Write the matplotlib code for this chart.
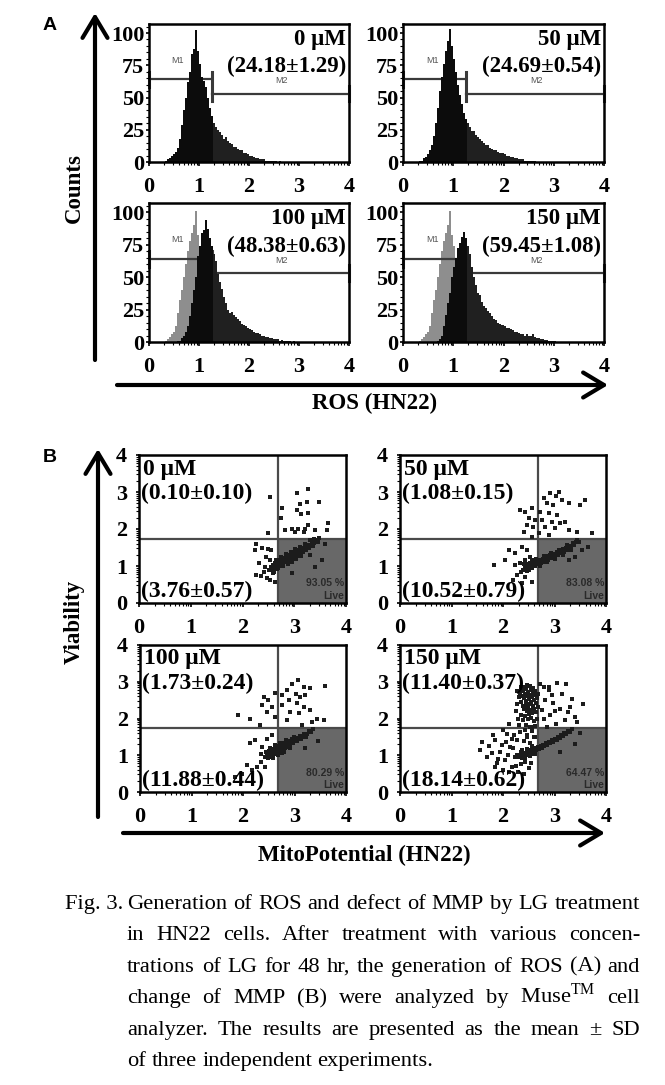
import numpy as np
import matplotlib
matplotlib.use("Agg")
import matplotlib.pyplot as plt
from matplotlib.transforms import IdentityTransform

W, H = 665, 1085
SERIF = ["Liberation Serif", "DejaVu Serif"]
SANS = ["Liberation Sans", "DejaVu Sans"]
plt.rcParams["font.family"] = SERIF
plt.rcParams["mathtext.fontset"] = "custom"
plt.rcParams["mathtext.rm"] = "Liberation Serif"

# ---------------- A: ROS histograms ----------------
doses = ["0 μM", "50 μM", "100 μM", "150 μM"]
ros_pct = ["(24.18±1.29)", "(24.69±0.54)", "(48.38±0.63)", "(59.45±1.08)"]
ros_bin0, ros_binw = 0.32, 0.04
ros_0 = [1, 2, 3, 5, 6, 8, 11, 18, 29, 40,
         50, 62, 70, 84, 88, 102, 86, 76, 66, 63,
         58, 50, 42, 36, 30, 27, 25, 23, 21, 18,
         19, 16, 15, 14, 12, 12, 10, 9, 9, 7,
         7, 6, 5, 5, 4, 3, 3, 2, 2, 2,
         1, 1, 1, 0.5, 0.5, 0.5, 0, 0.5, 0, 0]
ros_50 = [0.5, 1, 3, 4, 6, 9, 13, 20, 30, 42,
          55, 66, 76, 86, 94, 103, 90, 80, 70, 60,
          52, 45, 38, 33, 30, 27, 24, 24, 21, 19,
          18, 16, 15, 13, 13, 11, 10, 9, 9, 8,
          7, 7, 6, 5, 5, 4, 4, 3, 3, 2,
          2, 2, 1, 1, 1, 1, 0.5, 0.5, 0, 0]
ros_100 = [0, 0, 0, 0, 0, 0, 0.5, 1, 3, 5,
           8, 12, 20, 30, 40, 50, 66, 74, 84, 86,
           94, 87, 80, 74, 68, 62, 52, 46, 41, 35,
           30, 25, 22, 23, 21, 19, 18, 16, 14, 13,
           12, 11, 10, 9, 8, 7, 7, 6, 5, 5,
           4, 4, 3, 3, 2, 2, 2, 1, 1.5, 1,
           1, 0.5, 0.5, 0, 0.5, 0, 0, 0, 0, 0]
ros_150 = [0, 0, 0, 0, 0, 0, 0, 0, 0, 0.5,
           2, 5, 12, 21, 30, 38, 50, 58, 65, 72,
           76, 81, 85, 80, 74, 68, 58, 50, 44, 38,
           36, 31, 28, 26, 24, 22, 20, 18, 17, 15,
           14, 13, 12, 11, 11, 10, 9, 8, 8, 7,
           6, 6, 5, 6, 5, 5, 6, 4, 3, 3,
           2, 2, 1.5, 1.5, 1, 1, 0.5, 0.5, 0, 0]
ros_ctrl = [1, 2, 4, 6, 8, 12, 22, 32, 40, 50,
            60, 70, 78, 84, 90, 101, 82, 74, 64, 58,
            52, 44, 38, 32, 28, 25, 22, 20, 18, 16,
            14, 13, 12, 10, 9, 8, 7, 6, 5, 5]
ros_series = [ros_0, ros_50, ros_100, ros_150]
gate_split = 1.25
m1_level, m2_level = 64, 53

# ---------------- B: MMP dot plots ----------------
mmp_upper = ["(0.10±0.10)", "(1.08±0.15)", "(1.73±0.24)", "(11.40±0.37)"]
mmp_lower = ["(3.76±0.57)", "(10.52±0.79)", "(11.88±0.44)", "(18.14±0.62)"]
mmp_live = ["93.05 %", "83.08 %", "80.29 %", "64.47 %"]
x_gate, y_gate = 2.68, 1.74

mmp_0 = [
    (2.53, 2.87), (3.05, 2.98), (3.26, 3.07), (3.12, 2.68), (3.24, 2.72), (3.47, 2.72), (2.76, 2.56), (3.06, 2.51),
    (3.14, 2.40), (3.26, 2.42), (2.74, 2.29), (2.83, 1.97), (2.95, 1.99), (3.08, 2.01), (3.20, 2.01), (3.27, 2.11),
    (3.40, 1.97), (3.65, 2.15), (3.63, 1.97), (2.49, 1.88), (3.01, 1.92), (3.18, 1.92),
    (2.27, 1.59), (2.37, 1.48), (2.49, 1.46), (2.56, 1.44), (2.25, 1.44), (2.45, 1.25), (2.53, 1.16), (2.31, 1.07),
    (2.43, 0.98), (2.27, 0.76), (2.36, 0.73), (2.47, 0.67), (2.53, 0.62), (2.42, 0.85), (2.58, 0.80), (2.63, 0.58),
    (3.53, 1.16), (3.40, 0.98), (2.95, 0.80), (3.60, 1.60), (3.30, 1.30),
    (2.52, 0.90), (2.55, 0.96), (2.58, 0.88), (2.58, 1.02), (2.61, 0.95), (2.62, 1.08), (2.64, 0.99), (2.66, 0.92),
    (2.66, 1.05), (2.68, 1.12), (2.70, 1.00), (2.71, 1.07), (2.73, 1.15), (2.74, 1.03), (2.76, 1.10), (2.77, 1.19),
    (2.79, 1.06), (2.80, 1.14), (2.82, 1.22), (2.83, 1.10), (2.85, 1.17), (2.86, 1.26), (2.88, 1.13), (2.89, 1.21),
    (2.91, 1.29), (2.92, 1.17), (2.94, 1.24), (2.95, 1.33), (2.97, 1.20), (2.98, 1.28), (3.00, 1.36), (3.01, 1.24),
    (3.03, 1.31), (3.05, 1.40), (3.06, 1.28), (3.08, 1.35), (3.10, 1.44), (3.12, 1.32), (3.13, 1.40), (3.15, 1.48),
    (3.17, 1.37), (3.19, 1.45), (3.21, 1.53), (3.23, 1.42), (3.25, 1.50), (3.27, 1.58), (3.29, 1.48), (3.31, 1.56),
    (3.34, 1.63), (3.36, 1.54), (3.39, 1.62), (3.42, 1.70), (3.45, 1.66), (3.48, 1.76), (2.69, 0.94), (2.78, 0.99),
    (2.87, 1.05), (2.96, 1.12), (3.04, 1.20), (3.14, 1.27), (2.75, 1.25), (2.84, 1.32), (2.93, 1.38), (3.02, 1.45),
    (3.11, 1.52), (3.20, 1.60), (3.30, 1.70), (3.38, 1.74), (2.60, 0.85), (2.65, 1.15),
]
mmp_50 = [
    (2.92, 2.98), (3.08, 3.01), (2.79, 2.85), (3.02, 2.88), (3.15, 2.78), (3.28, 2.69), (2.85, 2.69), (2.98, 2.65),
    (3.60, 2.78), (3.50, 2.65), (2.33, 2.51), (2.43, 2.47), (2.56, 2.56), (2.72, 2.47), (2.89, 2.42), (3.05, 2.38),
    (2.50, 2.29), (2.63, 2.24), (2.76, 2.24), (2.95, 2.20), (3.11, 2.15), (3.21, 2.20), (2.46, 2.11), (2.59, 2.06),
    (2.82, 2.06), (3.01, 2.02), (3.28, 1.97), (3.44, 1.93), (3.73, 1.88), (2.40, 1.93), (2.69, 1.88), (2.89, 1.84),
    (2.56, 1.79),
    (2.11, 1.43), (1.82, 1.03), (2.04, 1.16), (2.24, 1.34), (2.37, 1.52), (2.46, 1.43), (2.23, 1.02), (2.33, 1.07),
    (2.43, 1.16), (2.53, 1.25), (2.59, 1.03), (2.27, 0.76), (2.35, 0.85), (2.43, 0.71), (2.20, 0.62), (2.56, 0.58),
    (2.37, 0.53),
    (3.53, 1.43), (3.40, 1.25), (3.28, 1.16), (3.66, 1.52),
    (2.42, 0.97), (2.45, 1.02), (2.47, 0.93), (2.49, 1.05), (2.51, 0.99), (2.53, 1.08), (2.55, 1.01), (2.57, 0.95),
    (2.58, 1.10), (2.60, 1.04), (2.62, 1.12), (2.63, 1.00), (2.65, 1.07), (2.67, 1.14), (2.68, 1.05), (2.70, 1.10),
    (2.72, 1.17), (2.73, 1.08), (2.75, 1.14), (2.77, 1.20), (2.78, 1.11), (2.80, 1.17), (2.82, 1.23), (2.83, 1.14),
    (2.85, 1.20), (2.87, 1.26), (2.88, 1.17), (2.90, 1.23), (2.92, 1.29), (2.94, 1.21), (2.96, 1.27), (2.98, 1.33),
    (3.00, 1.25), (3.02, 1.31), (3.04, 1.37), (3.06, 1.29), (3.08, 1.35), (3.10, 1.41), (3.12, 1.34), (3.14, 1.40),
    (3.16, 1.46), (3.18, 1.38), (3.20, 1.44), (3.22, 1.50), (3.24, 1.43), (3.26, 1.49), (3.28, 1.55), (3.30, 1.48),
    (3.33, 1.55), (3.36, 1.61), (3.38, 1.56), (3.41, 1.64), (3.44, 1.70), (3.47, 1.66), (2.50, 0.90), (2.56, 1.15),
    (2.64, 1.18), (2.71, 1.01), (2.79, 1.27), (2.86, 1.10), (2.93, 1.36), (3.01, 1.18), (3.09, 1.44), (3.17, 1.30),
    (3.25, 1.56), (3.32, 1.42), (2.38, 0.90), (2.40, 1.05), (2.46, 0.86), (2.52, 0.94),
]
mmp_100 = [
    (3.07, 3.06), (2.95, 2.95), (3.18, 2.86), (3.31, 2.82), (3.60, 2.88), (2.85, 2.77), (3.02, 2.68), (3.11, 2.59),
    (3.21, 2.63), (2.76, 2.63), (2.63, 2.70), (2.89, 2.50), (3.05, 2.41), (3.18, 2.32), (3.31, 2.23), (2.48, 2.50),
    (2.37, 2.36), (2.56, 2.32), (2.76, 2.36), (2.92, 2.18), (3.08, 2.14), (3.44, 1.99), (3.57, 1.95), (3.34, 1.91),
    (1.91, 2.09), (2.14, 1.99), (2.33, 1.82), (2.63, 2.04), (2.46, 2.18), (2.85, 1.95), (3.14, 1.82), (2.40, 2.59),
    (2.14, 1.32), (2.24, 1.41), (2.37, 1.23), (2.46, 1.45), (2.56, 1.54), (2.34, 1.04), (2.43, 0.95), (2.08, 0.73),
    (2.17, 0.59), (2.27, 0.68), (1.98, 0.50), (1.85, 0.40), (2.43, 0.68), (2.34, 0.82),
    (3.45, 1.40), (3.20, 1.20),
    (2.46, 0.98), (2.48, 1.06), (2.50, 1.01), (2.51, 1.12), (2.53, 0.96), (2.54, 1.05), (2.56, 1.14), (2.57, 1.00),
    (2.58, 1.08), (2.60, 1.18), (2.61, 1.03), (2.62, 1.11), (2.64, 1.21), (2.65, 1.06), (2.66, 1.14), (2.68, 1.24),
    (2.69, 1.09), (2.70, 1.17), (2.72, 1.27), (2.73, 1.12), (2.74, 1.20), (2.76, 1.30), (2.77, 1.15), (2.78, 1.23),
    (2.80, 1.33), (2.81, 1.19), (2.83, 1.27), (2.85, 1.36), (2.86, 1.23), (2.88, 1.31), (2.90, 1.40), (2.92, 1.28),
    (2.94, 1.35), (2.96, 1.44), (2.98, 1.33), (3.00, 1.40), (3.03, 1.48), (3.05, 1.38), (3.08, 1.45), (3.11, 1.53),
    (3.13, 1.44), (3.16, 1.51), (3.19, 1.58), (3.22, 1.51), (3.25, 1.59), (3.29, 1.66), (3.32, 1.62), (3.36, 1.72),
    (2.52, 1.20), (2.59, 0.93), (2.67, 1.00), (2.75, 1.07), (2.63, 1.28), (2.71, 1.34), (2.79, 1.10), (2.84, 1.42),
    (2.91, 1.21), (2.99, 1.50), (2.44, 1.10), (2.49, 0.92),
]
mmp_150 = [
    (2.33, 2.70), (2.36, 2.62), (2.38, 2.75), (2.40, 2.55), (2.42, 2.68), (2.44, 2.80), (2.45, 2.48), (2.47, 2.60),
    (2.48, 2.72), (2.50, 2.40), (2.51, 2.53), (2.52, 2.65), (2.54, 2.78), (2.55, 2.45), (2.56, 2.58), (2.58, 2.70),
    (2.59, 2.35), (2.60, 2.50), (2.62, 2.63), (2.63, 2.76), (2.64, 2.42), (2.66, 2.55), (2.67, 2.30), (2.35, 2.45),
    (2.38, 2.35), (2.41, 2.25), (2.44, 2.38), (2.46, 2.20), (2.49, 2.30), (2.53, 2.22), (2.57, 2.15), (2.61, 2.25),
    (2.65, 2.18), (2.40, 2.85), (2.46, 2.90), (2.52, 2.88), (2.58, 2.84), (2.31, 2.58), (2.34, 2.85), (2.68, 2.68),
    (2.43, 2.08), (2.48, 1.98), (2.55, 2.02), (2.60, 1.92), (2.38, 1.95), (2.45, 1.82), (2.52, 1.78), (2.62, 1.80),
    (2.35, 2.10), (2.66, 2.00), (2.50, 2.12), (2.42, 1.70), (2.56, 1.65), (2.47, 1.55), (2.60, 1.50), (2.40, 1.40),
    (2.27, 2.40), (2.25, 2.20), (2.29, 2.00), (2.31, 1.82), (2.28, 2.75),
    (3.05, 2.97), (3.22, 2.95), (2.89, 2.77), (3.14, 2.68), (3.34, 2.54), (2.82, 2.50), (2.98, 2.41), (3.11, 2.27),
    (3.27, 2.18), (3.44, 1.91), (3.40, 2.04), (2.92, 2.09), (2.76, 2.23), (3.21, 1.95), (3.02, 1.86), (2.85, 1.77),
    (2.79, 2.86), (2.95, 2.63), (2.72, 2.95), (3.55, 2.40), (2.80, 2.00), (3.00, 2.20), (3.30, 2.30), (2.90, 2.85),
    (1.56, 1.14), (1.78, 1.05), (1.85, 1.41), (1.98, 1.27), (1.91, 0.91), (2.08, 1.59), (2.14, 1.23), (2.04, 0.86),
    (2.17, 0.68), (2.24, 0.95), (2.27, 1.41), (2.33, 1.64), (2.37, 1.14), (2.46, 1.50), (2.43, 0.82), (2.53, 1.32),
    (2.56, 1.77), (2.63, 1.50), (2.59, 1.04), (2.30, 0.55), (2.40, 0.50), (1.85, 0.68), (1.69, 0.95), (2.11, 1.86),
    (1.60, 1.35), (1.95, 1.10), (2.00, 0.60), (2.10, 1.00), (2.20, 1.20), (2.25, 0.70), (2.18, 1.45), (1.88, 0.80),
    (2.05, 1.35), (2.28, 1.00), (2.12, 0.55), (1.72, 1.25), (2.35, 0.75), (2.50, 0.65), (2.55, 0.80), (2.22, 1.55),
    (2.00, 1.70), (1.80, 1.55),
    (3.40, 1.30), (3.10, 1.10), (3.50, 1.60),
    (2.30, 0.95), (2.33, 1.00), (2.36, 0.93), (2.38, 1.04), (2.40, 0.98), (2.43, 1.06), (2.45, 1.01), (2.48, 1.10),
    (2.50, 1.04), (2.53, 1.13), (2.55, 1.08), (2.58, 1.16), (2.60, 1.11), (2.63, 1.19), (2.65, 1.14), (2.68, 1.22),
    (2.70, 1.18), (2.73, 1.26), (2.75, 1.21), (2.78, 1.29), (2.80, 1.25), (2.83, 1.33), (2.86, 1.29), (2.89, 1.37),
    (2.92, 1.33), (2.95, 1.41), (2.98, 1.37), (3.01, 1.45), (3.04, 1.42), (3.07, 1.50), (3.10, 1.47), (3.13, 1.55),
    (3.16, 1.52), (3.19, 1.60), (3.22, 1.58), (3.26, 1.66), (3.30, 1.64), (3.34, 1.72), (2.35, 1.10), (2.42, 0.90),
    (2.52, 0.97), (2.47, 1.18), (2.62, 1.03), (2.57, 1.25),
]
mmp_series = [mmp_0, mmp_50, mmp_100, mmp_150]

caption = [
    "Fig. 3. Generation of ROS and defect of MMP by LG treatment",
    "in HN22 cells. After treatment with various concen-",
    "trations of LG for 48 hr, the generation of ROS (A) and",
    r"change of MMP (B) were analyzed by Muse$^{\mathrm{TM}}$ cell",
    "analyzer. The results are presented as the mean ± SD",
    "of three independent experiments.",
]

# ---------------- layout (pixel boxes) ----------------
hist_boxes = [(149, 24, 349, 162), (403, 24, 604, 162), (149, 203, 349, 342), (403, 203, 604, 342)]
dot_boxes = [(139, 455, 346, 603), (400, 455, 606, 603), (140, 645, 346, 792), (400, 645, 606, 792)]
log_minor = [k + np.log10(m) for k in range(4) for m in range(2, 10)]


def box(b):
    x0, y0, x1, y1 = b
    return [x0 / W, 1 - y1 / H, (x1 - x0) / W, (y1 - y0) / H]


def dress(ax, yticks, yminor, ypad):
    ax.set_xlim(0, 4)
    ax.set_xticks(range(5))
    ax.set_xticks(log_minor, minor=True)
    ax.set_yticks(yticks)
    ax.set_yticks(yminor, minor=True)
    ax.tick_params(which="major", direction="out", length=3, width=1.2, labelsize=16, color="black")
    ax.tick_params(which="minor", direction="out", length=2, width=0.8)
    ax.tick_params(axis="x", pad=8)
    ax.tick_params(axis="y", pad=ypad, length=2.5)
    for lbl in ax.get_xticklabels() + ax.get_yticklabels():
        lbl.set_fontweight("bold")
    for sp in ax.spines.values():
        sp.set_linewidth(1.8)


fig = plt.figure(figsize=(W / 100, H / 100), dpi=100)

for i, b in enumerate(hist_boxes):
    ax = fig.add_axes(box(b))
    counts = np.array(ros_series[i], dtype=float)
    edges = ros_bin0 + ros_binw * np.arange(len(counts) + 1)
    if i >= 2:
        ctrl_edges = ros_bin0 + ros_binw * np.arange(len(ros_ctrl) + 1)
        ax.stairs(ros_ctrl, ctrl_edges, fill=True, color="#8e8e8e", zorder=1)
    gc = "#3a3a3a"
    ax.plot([0, gate_split], [m1_level, m1_level], color=gc, lw=1.6, zorder=1.5)
    ax.plot([gate_split, 4], [m2_level, m2_level], color=gc, lw=1.6, zorder=1.5)
    ax.plot([0, 0], [m1_level - 6, m1_level + 6], color=gc, lw=2.2, zorder=1.5, clip_on=False)
    ax.plot([gate_split, gate_split], [m2_level - 6, m1_level + 6], color=gc, lw=2.2, zorder=1.5)
    ax.plot([4, 4], [m2_level - 6, m2_level + 6], color=gc, lw=2.2, zorder=1.5, clip_on=False)
    ax.text(0.58, 79, "M1", family=SANS, fontsize=6.5, color="#555555", ha="center", va="center", zorder=1.5)
    ax.text(2.65, 63, "M2", family=SANS, fontsize=6.5, color="#555555", ha="center", va="center", zorder=1.5)
    ax.stairs(counts, edges, fill=True, color="#0c0c0c", zorder=2)
    right = np.where(edges[:-1] >= gate_split - 1e-9, counts, 0)
    ax.stairs(right, edges, fill=True, color="#202020", zorder=2.1)
    ax.set_ylim(0, 107)
    dress(ax, [0, 25, 50, 75, 100], np.arange(0, 107, 5), 1)
    ax.text(0.985, 0.885, doses[i], transform=ax.transAxes, ha="right", va="center",
            fontsize=16.5, fontweight="bold", zorder=3)
    ax.text(0.985, 0.69, ros_pct[i], transform=ax.transAxes, ha="right", va="center",
            fontsize=16.5, fontweight="bold", zorder=3)

for i, b in enumerate(dot_boxes):
    ax = fig.add_axes(box(b))
    pts = np.array(mmp_series[i])
    ax.fill_between([x_gate, 4], 0, y_gate, color="#686868", lw=0, zorder=1)
    ax.axvline(x_gate, color="#4a4a4a", lw=1.6, zorder=2)
    ax.axhline(y_gate, color="#4a4a4a", lw=1.6, zorder=2)
    ax.scatter(pts[:, 0], pts[:, 1], s=6, marker="s", color="#1c1c1c", linewidths=0, zorder=3)
    ax.set_ylim(0, 4)
    dress(ax, range(5), log_minor, 6)
    ax.text(0.02, 0.905, doses[i], transform=ax.transAxes, ha="left", va="center",
            fontsize=17, fontweight="bold", zorder=4)
    ax.text(0.008, 0.74, mmp_upper[i], transform=ax.transAxes, ha="left", va="center",
            fontsize=17, fontweight="bold", zorder=4)
    ax.text(0.008, 0.08, mmp_lower[i], transform=ax.transAxes, ha="left", va="center",
            fontsize=17, fontweight="bold", zorder=4)
    ax.text(3.96, 0.53, mmp_live[i], family=SANS, fontsize=7.5, fontweight="bold",
            color="#2a2a2a", ha="right", va="center", zorder=4)
    ax.text(3.96, 0.18, "Live", family=SANS, fontsize=7.5, fontweight="bold",
            color="#2a2a2a", ha="right", va="center", zorder=4)

# overlay for panel letters, axis arrows and titles
ov = fig.add_axes([0, 0, 1, 1], zorder=10)
ov.set_xlim(0, W)
ov.set_ylim(H, 0)
ov.axis("off")
ov.patch.set_alpha(0)
arrow = dict(arrowstyle="->,head_length=0.5,head_width=0.3", lw=3, color="black",
             mutation_scale=30, shrinkA=0, shrinkB=0)
ov.annotate("", xy=(95, 13), xytext=(95, 360), arrowprops=arrow)
ov.annotate("", xy=(608, 385), xytext=(117, 385), arrowprops=arrow)
ov.annotate("", xy=(98, 449), xytext=(98, 817), arrowprops=arrow)
ov.annotate("", xy=(605, 833), xytext=(123, 833), arrowprops=arrow)
ov.text(50, 25, "A", family=SANS, fontsize=14, fontweight="bold", ha="center", va="center")
ov.text(50, 457, "B", family=SANS, fontsize=14, fontweight="bold", ha="center", va="center")
ov.text(74, 188, "Counts", fontsize=16.5, fontweight="bold", rotation=90, ha="center", va="center")
ov.text(74, 622, "Viability", fontsize=16.5, fontweight="bold", rotation=90, ha="center", va="center")
ov.text(375, 403, "ROS (HN22)", fontsize=16.5, fontweight="bold", ha="center", va="center")
ov.text(364, 855, "MitoPotential (HN22)", fontsize=16.5, fontweight="bold", ha="center", va="center")

# justified caption
renderer = fig.canvas.get_renderer()
cap_size = 16.2
cap_left, cap_indent, cap_right = 65, 127, 640
cap_top, cap_step = 909, 31.4


def put_words(words, x0, x1, ybase, justify):
    ts = [fig.text(0, 0, w, transform=IdentityTransform(), fontsize=cap_size, va="baseline") for w in words]
    widths = [t.get_window_extent(renderer).width for t in ts]
    if justify and len(ts) > 1:
        gap = (x1 - x0 - sum(widths)) / (len(ts) - 1)
    else:
        gap = cap_size * 0.25 * 100 / 72
    x = x0
    for t, w in zip(ts, widths):
        t.set_position((x, H - ybase))
        x += w + gap


for k, line in enumerate(caption):
    yb = cap_top + k * cap_step
    words = line.split(" ")
    if k == 0:
        fig.text(cap_left, H - yb, "Fig. 3.", transform=IdentityTransform(), fontsize=cap_size, va="baseline")
        words = words[2:]
    put_words(words, cap_indent, cap_right, yb, k < len(caption) - 1)

fig.savefig("out.png", dpi=100)
